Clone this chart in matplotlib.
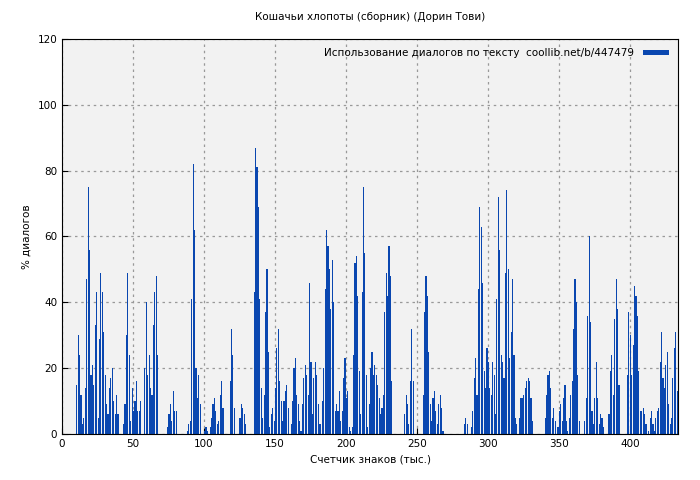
import matplotlib
matplotlib.use("Agg")
import matplotlib.pyplot as plt
import numpy as np

# each segment: first x (thousand chars) and consecutive bar values (% dialogue)
seg_start = [10, 15, 25, 37, 43, 48, 58, 74, 88, 90, 100, 112, 118, 125, 135,
             161, 182, 194, 205, 223, 241, 254, 283, 288, 305, 322, 340, 349,
             368, 375, 385, 398, 413, 420]
seg_values = [
    [15, 30, 24, 12, 3],
    [5, 14, 47, 75, 56, 18, 21, 15, 33, 43],
    [5, 29, 49, 43, 31, 18, 9, 6, 14, 17, 20, 10],
    [6, 12, 6],
    [3, 9, 30, 49, 24],
    [4, 14, 7, 10, 16, 7, 7, 10],
    [20, 40, 18, 24, 14, 12, 33, 43, 48, 24],
    [2, 6, 9, 4, 13, 7, 7],
    [1, 3],
    [4, 41, 82, 62, 20, 11, 18, 9],
    [1, 2, 1, 0, 2, 5, 9, 11, 7, 3, 4, 12],
    [16, 8],
    [16, 32, 24, 8],
    [5, 9, 8, 6, 3],
    [43, 87, 81, 69, 41, 14, 5, 12, 37, 50, 25, 2, 6, 8, 4, 14, 26, 32, 16, 10,
     4, 10, 13, 15, 8],
    [3, 10, 20, 23, 12, 9, 4, 1, 9, 17, 21, 18, 12, 46, 22, 6, 17, 22, 18, 9, 3],
    [3, 10, 20, 44, 62, 57, 50, 38, 53, 40, 7, 9],
    [7, 13, 4, 7, 17, 23, 11, 13, 2, 1, 2],
    [24, 52, 54, 42, 19, 6, 43, 75, 55, 18, 2, 9, 20, 25, 18, 21, 18, 15, 11, 5],
    [2, 6, 8, 12, 37, 49, 42, 57, 48, 16],
    [6, 12, 9, 3, 16, 32, 16],
    [12, 37, 48, 42, 25, 9, 4, 11, 13, 7, 3, 9, 12, 8, 1],
    [3, 5, 3],
    [2, 7, 17, 23, 12, 44, 69, 63, 46, 19, 14, 26, 22, 14, 12, 22, 18, 6, 41, 72,
     56, 24, 5],
    [5, 14, 20, 10, 12, 22, 17, 49, 74, 50, 23, 31, 47, 24, 5, 3],
    [5, 11, 11, 12, 14, 16, 17, 16, 11, 4],
    [5, 12, 18, 19, 14, 5, 8, 4],
    [2, 7, 9, 4, 11, 15, 4, 1, 5, 12, 16, 32, 47, 40, 18, 4],
    [4, 11, 36, 60, 34, 7, 3],
    [11, 22, 11, 3, 6, 5, 2],
    [6, 19, 24, 12, 35, 47, 38, 15],
    [18, 37, 30, 18, 27, 45, 42, 36, 19, 7, 7, 8, 6, 3],
    [1, 5, 7, 3, 1, 5, 7],
    [8, 22, 31, 17, 14, 21, 25, 9, 3, 5, 17, 26, 31, 13, 13, 4],
]

x = np.concatenate([np.arange(s, s + len(v)) for s, v in zip(seg_start, seg_values)])
y = np.concatenate([np.array(v, float) for v in seg_values])

plt.rcParams["font.family"] = "DejaVu Sans"
fig = plt.figure(figsize=(7, 4.8), dpi=100)
ax = fig.add_axes([0.0886, 0.0958, 0.88, 0.823])
ax.set_facecolor("#f2f2f2")
ax.bar(x, y, width=0.8, color="#0a47b0", align="edge", linewidth=0,
       label="Использование диалогов по тексту  coollib.net/b/447479")
ax.set_xlim(0, 434)
ax.set_ylim(0, 120)
ax.set_xticks(range(0, 401, 50))
ax.set_yticks(range(0, 121, 20))
ax.grid(True, color="#999999", linestyle=(0, (2, 3)), linewidth=0.9)
ax.set_axisbelow(True)
ax.tick_params(labelsize=7.5, direction="in", length=4)
ax.set_xlabel("Счетчик знаков (тыс.)", fontsize=7.5)
ax.set_ylabel("% диалогов", fontsize=7.5)
ax.set_title("Кошачьи хлопоты (сборник) (Дорин Тови)", fontsize=7.5, pad=14)
leg = ax.legend(loc="upper right", fontsize=7.5, frameon=False, handlelength=2.5,
                handleheight=0.4, markerfirst=False)
fig.savefig("out.png", dpi=100)
